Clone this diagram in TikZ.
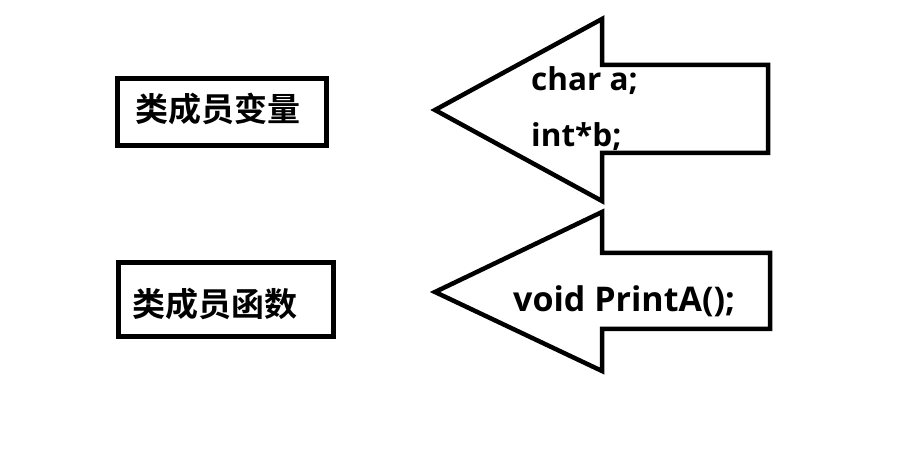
\documentclass[tikz,border=0pt]{standalone}
\usepackage{fontspec}
\setmainfont{Open Sans}[BoldFont={Open Sans Bold}]
\newfontfamily\cjk{Noto Sans CJK SC Bold}
\begin{document}
\begin{tikzpicture}[x=1pt,y=-1pt,
  frame/.style={draw=black,line width=4.5pt,minimum width=#1,inner sep=0pt},
  arrowshape/.style={draw=black,line width=4.5pt,line join=miter,fill=white},
  cjktext/.style={anchor=base west,inner sep=0pt,font=\cjk\fontsize{33}{33}\selectfont},
  code/.style={anchor=base west,inner sep=0pt,font=\bfseries\fontsize{#1}{#1}\selectfont}]
\useasboundingbox (0,0) rectangle (924,462);
% boxes
\node[frame=209pt,minimum height=67pt] (box1) at (222,112) {};
\node[frame=215pt,minimum height=74pt] (box2) at (226,299.5) {};
\node[cjktext] (t1) at (135,122) {类成员变量};
\node[cjktext] (t2) at (132,317) {类成员函数};
% arrows
\draw[arrowshape] (435,110) -- (602,19) -- (602,65) -- (768,65) -- (768,153) -- (602,153) -- (602,201) -- cycle;
\draw[arrowshape] (435,292) -- (602,212) -- (602,253) -- (770,253) -- (770,329) -- (602,329) -- (602,371) -- cycle;
\node[code=31.5] (c1) at (531,91) {char a;};
\node[code=31.5] (c2) at (531,147) {int*b;};
\node[code=34] (c3) at (513,312) {void PrintA();};
\end{tikzpicture}
\end{document}
